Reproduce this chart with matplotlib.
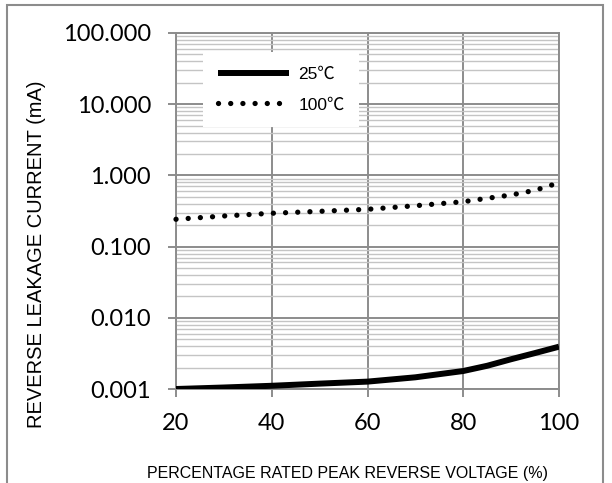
import matplotlib
matplotlib.use('Agg')
import matplotlib.pyplot as plt
from matplotlib.patches import Rectangle
from matplotlib.ticker import LogLocator, FixedLocator, NullFormatter

# data
voltage_pct = [20, 30, 40, 50, 60, 70, 80, 85, 90, 95, 100]
leak_25c = [0.00100, 0.00105, 0.00111, 0.00119, 0.00127, 0.00146, 0.00179, 0.00212, 0.00262, 0.00320, 0.00393]
leak_100c = [0.242, 0.269, 0.294, 0.313, 0.334, 0.375, 0.427, 0.477, 0.531, 0.618, 0.789]

y_ticks = [0.001, 0.01, 0.1, 1, 10, 100]
y_labels = ['0.001', '0.010', '0.100', '1.000', '10.000', '100.000']
x_ticks = [20, 40, 60, 80, 100]

fig = plt.figure(figsize=(6.12, 4.83), dpi=100)
ax = fig.add_axes([0.2876, 0.1946, 0.6258, 0.7371])

# outer frame
fig.patches.append(Rectangle((7 / 612, -0.05), 596 / 612, 1.05 - 5 / 483,
                             transform=fig.transFigure, fill=False,
                             edgecolor='#8c8c8c', lw=1.5))

ax.plot(voltage_pct, leak_25c, color='black', lw=4.3, solid_capstyle='butt',
        label='25\u2103', zorder=3)
ax.plot(voltage_pct, leak_100c, color='black', lw=3.8, linestyle=(0, (0.01, 2.3)),
        dash_capstyle='round', label='100\u2103', zorder=3, clip_on=False)

ax.set_yscale('log')
ax.set_xlim(20, 100)
ax.set_ylim(0.001, 100)

ax.yaxis.set_major_locator(FixedLocator(y_ticks))
ax.set_yticklabels(y_labels)
ax.yaxis.set_minor_locator(LogLocator(base=10, subs=range(2, 10), numticks=20))
ax.yaxis.set_minor_formatter(NullFormatter())
ax.set_xticks(x_ticks)

ax.grid(which='major', axis='both', color='#8c8c8c', lw=1.4)
ax.grid(which='minor', axis='y', color='#c4c4c4', lw=1.0)
ax.set_axisbelow(True)

for s in ax.spines.values():
    s.set_color('#8c8c8c')
    s.set_linewidth(1.4)

ax.tick_params(which='major', direction='out', length=6, width=1.4, color='#8c8c8c',
               labelsize=17, pad=12)
ax.tick_params(which='minor', length=0)
for lab in ax.get_xticklabels() + ax.get_yticklabels():
    lab.set_family('Lato')
ax.tick_params(axis='x', pad=11)

ax.set_xlabel('PERCENTAGE RATED PEAK REVERSE VOLTAGE (%)', family='Liberation Sans',
              fontsize=11.5, labelpad=12)
ax.xaxis.set_label_coords(0.448, -0.215)
ax.set_ylabel('REVERSE LEAKAGE CURRENT (mA)', family='Liberation Sans',
              fontsize=14.5, labelpad=14)
ax.yaxis.set_label_coords(-0.34, 0.379)

leg = ax.legend(loc='upper left', bbox_to_anchor=(0.07, 0.947), fancybox=False,
                framealpha=1, edgecolor='white', handlelength=4.1, handletextpad=0.55,
                labelspacing=0.9, borderpad=0.85, borderaxespad=0,
                prop={'size': 12.5})
leg.get_frame().set_linewidth(0)
for t in leg.get_texts():
    t.set_family(['Liberation Sans', 'Noto Sans CJK SC'])

fig.savefig('out.png', dpi=100)
